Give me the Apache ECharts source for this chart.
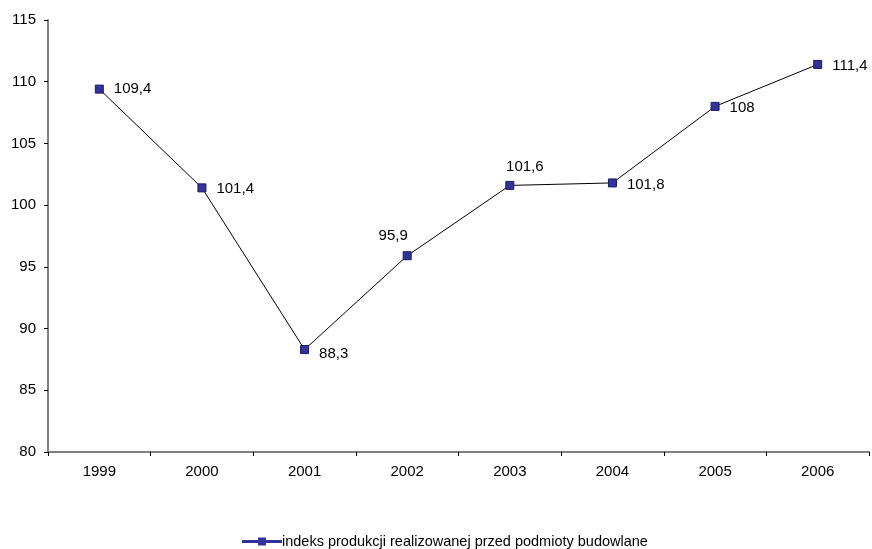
<!DOCTYPE html>
<html>
<head>
<meta charset="utf-8">
<script src="https://cdn.jsdelivr.net/npm/echarts@6/dist/echarts.min.js"></script>
<style>
  html, body { margin: 0; padding: 0; background: #fff; }
  #chart { width: 872px; height: 549px; }
</style>
</head>
<body>
<div id="chart"></div>
<script>
// Construction production index by year
const years = ['1999', '2000', '2001', '2002', '2003', '2004', '2005', '2006'];
const indexValues = [109.4, 101.4, 88.3, 95.9, 101.6, 101.8, 108, 111.4];
const seriesName = 'indeks produkcji realizowanej przed podmioty budowlane';
const yTicks = { min: 80, max: 115, interval: 5 };

// Where each value label sits relative to its marker
const labelPlacement = [
  { position: 'right', offset: [2, 0] },
  { position: 'right', offset: [2, 1] },
  { position: 'right', offset: [2, 4] },
  { position: 'top', offset: [-14, 0] },
  { position: 'top', offset: [15, 1] },
  { position: 'right', offset: [2, 2] },
  { position: 'right', offset: [2, 1] },
  { position: 'right', offset: [2, 1] }
];

const fmt = v => String(v).replace('.', ',');

// Legend key: a short line with a square marker in the middle
const legendIcon = 'path://M0,2.6H16V0H24V2.6H40V5.4H24V8H16V5.4H0Z';

const chart = echarts.init(document.getElementById('chart'));
chart.setOption({
  animation: false,
  textStyle: { fontFamily: 'Liberation Sans, Arial, sans-serif' },
  grid: { left: 48, right: 3, top: 20, bottom: 97, containLabel: false },
  xAxis: {
    type: 'category',
    data: years,
    boundaryGap: true,
    axisLine: { lineStyle: { color: '#808080', width: 2 } },
    axisTick: { show: true, alignWithLabel: false, length: 4, lineStyle: { color: '#000', width: 1 } },
    axisLabel: { color: '#000', fontSize: 15, margin: 12 },
    splitLine: { show: false }
  },
  yAxis: {
    type: 'value',
    min: yTicks.min,
    max: yTicks.max,
    interval: yTicks.interval,
    axisLine: { show: true, lineStyle: { color: '#808080', width: 2 } },
    axisTick: { show: true, length: 4, lineStyle: { color: '#000', width: 1 } },
    axisLabel: { color: '#000', fontSize: 15, margin: 12 },
    splitLine: { show: false }
  },
  legend: {
    bottom: -5,
    left: 237,
    itemWidth: 40,
    itemHeight: 8,
    itemGap: 10,
    itemStyle: { color: '#333399', borderWidth: 0 },
    textStyle: { color: '#000', fontSize: 14.5, padding: [0, 0, 0, -5] },
    data: [{ name: seriesName, icon: legendIcon }]
  },
  series: [{
    name: seriesName,
    type: 'line',
    data: indexValues.map((v, i) => ({
      value: v,
      label: {
        show: true,
        position: labelPlacement[i].position,
        offset: labelPlacement[i].offset,
        distance: 8,
        formatter: p => fmt(p.value),
        color: '#000',
        fontSize: 15
      }
    })),
    symbol: 'rect',
    symbolSize: 8,
    itemStyle: { color: '#333399', borderColor: '#1a1a66', borderWidth: 1 },
    lineStyle: { color: '#000', width: 1 }
  }]
});
</script>
</body>
</html>
